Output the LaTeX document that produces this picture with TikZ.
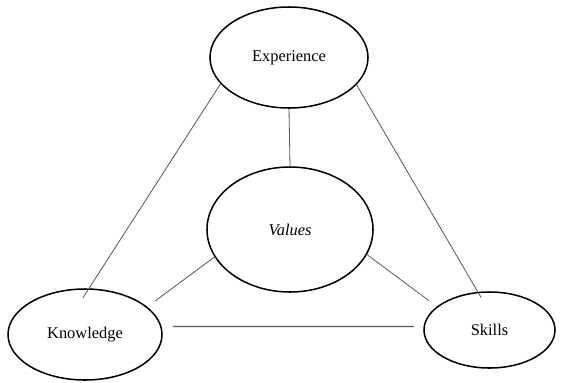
\documentclass[tikz,border=0pt]{standalone}
\usepackage{fontspec}
\setmainfont{Liberation Serif}
\usetikzlibrary{shapes.geometric}

\begin{document}
\begin{tikzpicture}[x=0.03cm,y=-0.03cm]
\tikzset{oval/.style={ellipse,draw,line width=1.3pt,inner sep=0pt,font=\fontsize{14}{16}\selectfont},
  link/.style={draw=black!65,line width=0.7pt}}
\useasboundingbox (0,0) rectangle (561,382);
\node[oval,minimum width=4.74cm,minimum height=3.03cm] (exp) at (289,57.5) {Experience};
\node[oval,minimum width=4.98cm,minimum height=3.75cm] (val) at (290,229.5) {\itshape Values};
\node[oval,minimum width=4.62cm,minimum height=2.73cm] (know) at (85,334.5) {Knowledge};
\node[oval,minimum width=3.93cm,minimum height=2.28cm] (skills) at (489.5,330) {Skills};

\draw[link,shorten >=-0.33cm] (exp.201) -- (know.85);
\draw[link,shorten >=-0.2cm] (exp.338) -- (skills.107);
\draw[link] (exp.south) -- (val.north);
\draw[link,shorten >=0.29cm] (val.200) -- (know.24);
\draw[link,shorten >=0.3cm] (val.342) -- (skills.156);
\draw[link,line width=1.1pt,shorten <=0.34cm,shorten >=0.28cm] (know.6) -- (skills.177);
    %
\end{tikzpicture}
\end{document}
